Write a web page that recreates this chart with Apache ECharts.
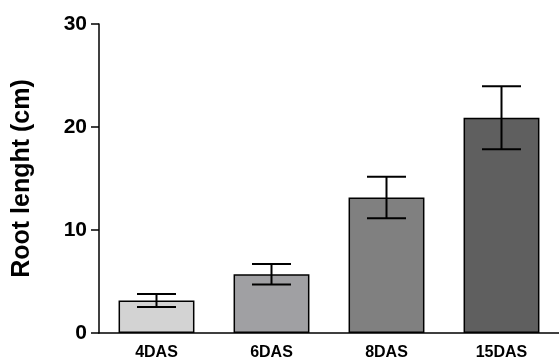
<!DOCTYPE html>
<html>
<head>
<meta charset="utf-8">
<script src="https://cdn.jsdelivr.net/npm/echarts@6/dist/echarts.min.js"></script>
<style>
  html, body { margin: 0; padding: 0; background: #fff; }
  #chart { width: 559px; height: 363px; }
</style>
</head>
<body>
<div id="chart"></div>
<script>
// Root length by days after sowing: mean and error half-width
const categories = ['4DAS', '6DAS', '8DAS', '15DAS'];
const meanLength = [3.15, 5.7, 13.15, 20.9];
const errorLength = [0.63, 1.0, 2.02, 3.05];
const barColors = ['#d3d3d3', '#a0a0a3', '#808080', '#5f5f5f'];
const yTicks = [0, 10, 20, 30];

const chart = echarts.init(document.getElementById('chart'));

const errorData = categories.map((c, i) => [i, meanLength[i] - errorLength[i], meanLength[i] + errorLength[i]]);

chart.setOption({
  animation: false,
  grid: { left: 99, right: -5, top: 24, bottom: 30 },
  xAxis: {
    type: 'category',
    data: categories,
    axisLine: { lineStyle: { color: '#000', width: 1.5 } },
    axisTick: { alignWithLabel: true, length: 8, lineStyle: { color: '#000', width: 1.5 } },
    axisLabel: { color: '#000', fontFamily: 'Liberation Sans', fontWeight: 'bold', fontSize: 16, margin: 12 }
  },
  yAxis: {
    type: 'value',
    min: yTicks[0],
    max: yTicks[yTicks.length - 1],
    interval: 10,
    name: 'Root lenght (cm)',
    nameLocation: 'middle',
    nameGap: 64,
    nameTextStyle: { color: '#000', fontFamily: 'Liberation Sans', fontWeight: 'bold', fontSize: 25 },
    axisLine: { show: true, lineStyle: { color: '#000', width: 1.5 } },
    axisTick: { show: true, length: 8, lineStyle: { color: '#000', width: 1.5 } },
    axisLabel: { color: '#000', fontFamily: 'Liberation Sans', fontWeight: 'bold', fontSize: 21, margin: 12 },
    splitLine: { show: false }
  },
  series: [
    {
      type: 'bar',
      barWidth: '66%',
      data: meanLength.map((v, i) => ({
        value: v,
        itemStyle: { color: barColors[i], borderColor: '#000', borderWidth: 1.5 }
      })),
      z: 2
    },
    {
      type: 'custom',
      data: errorData,
      z: 3,
      renderItem: function (params, api) {
        const x = api.value(0);
        const lo = api.coord([x, api.value(1)]);
        const hi = api.coord([x, api.value(2)]);
        const half = 19.5;
        const style = { stroke: '#000', lineWidth: 2 };
        return {
          type: 'group',
          children: [
            { type: 'line', shape: { x1: hi[0], y1: hi[1], x2: lo[0], y2: lo[1] }, style: style },
            { type: 'line', shape: { x1: hi[0] - half, y1: hi[1], x2: hi[0] + half, y2: hi[1] }, style: style },
            { type: 'line', shape: { x1: lo[0] - half, y1: lo[1], x2: lo[0] + half, y2: lo[1] }, style: style }
          ]
        };
      }
    }
  ]
});
</script>
</body>
</html>
